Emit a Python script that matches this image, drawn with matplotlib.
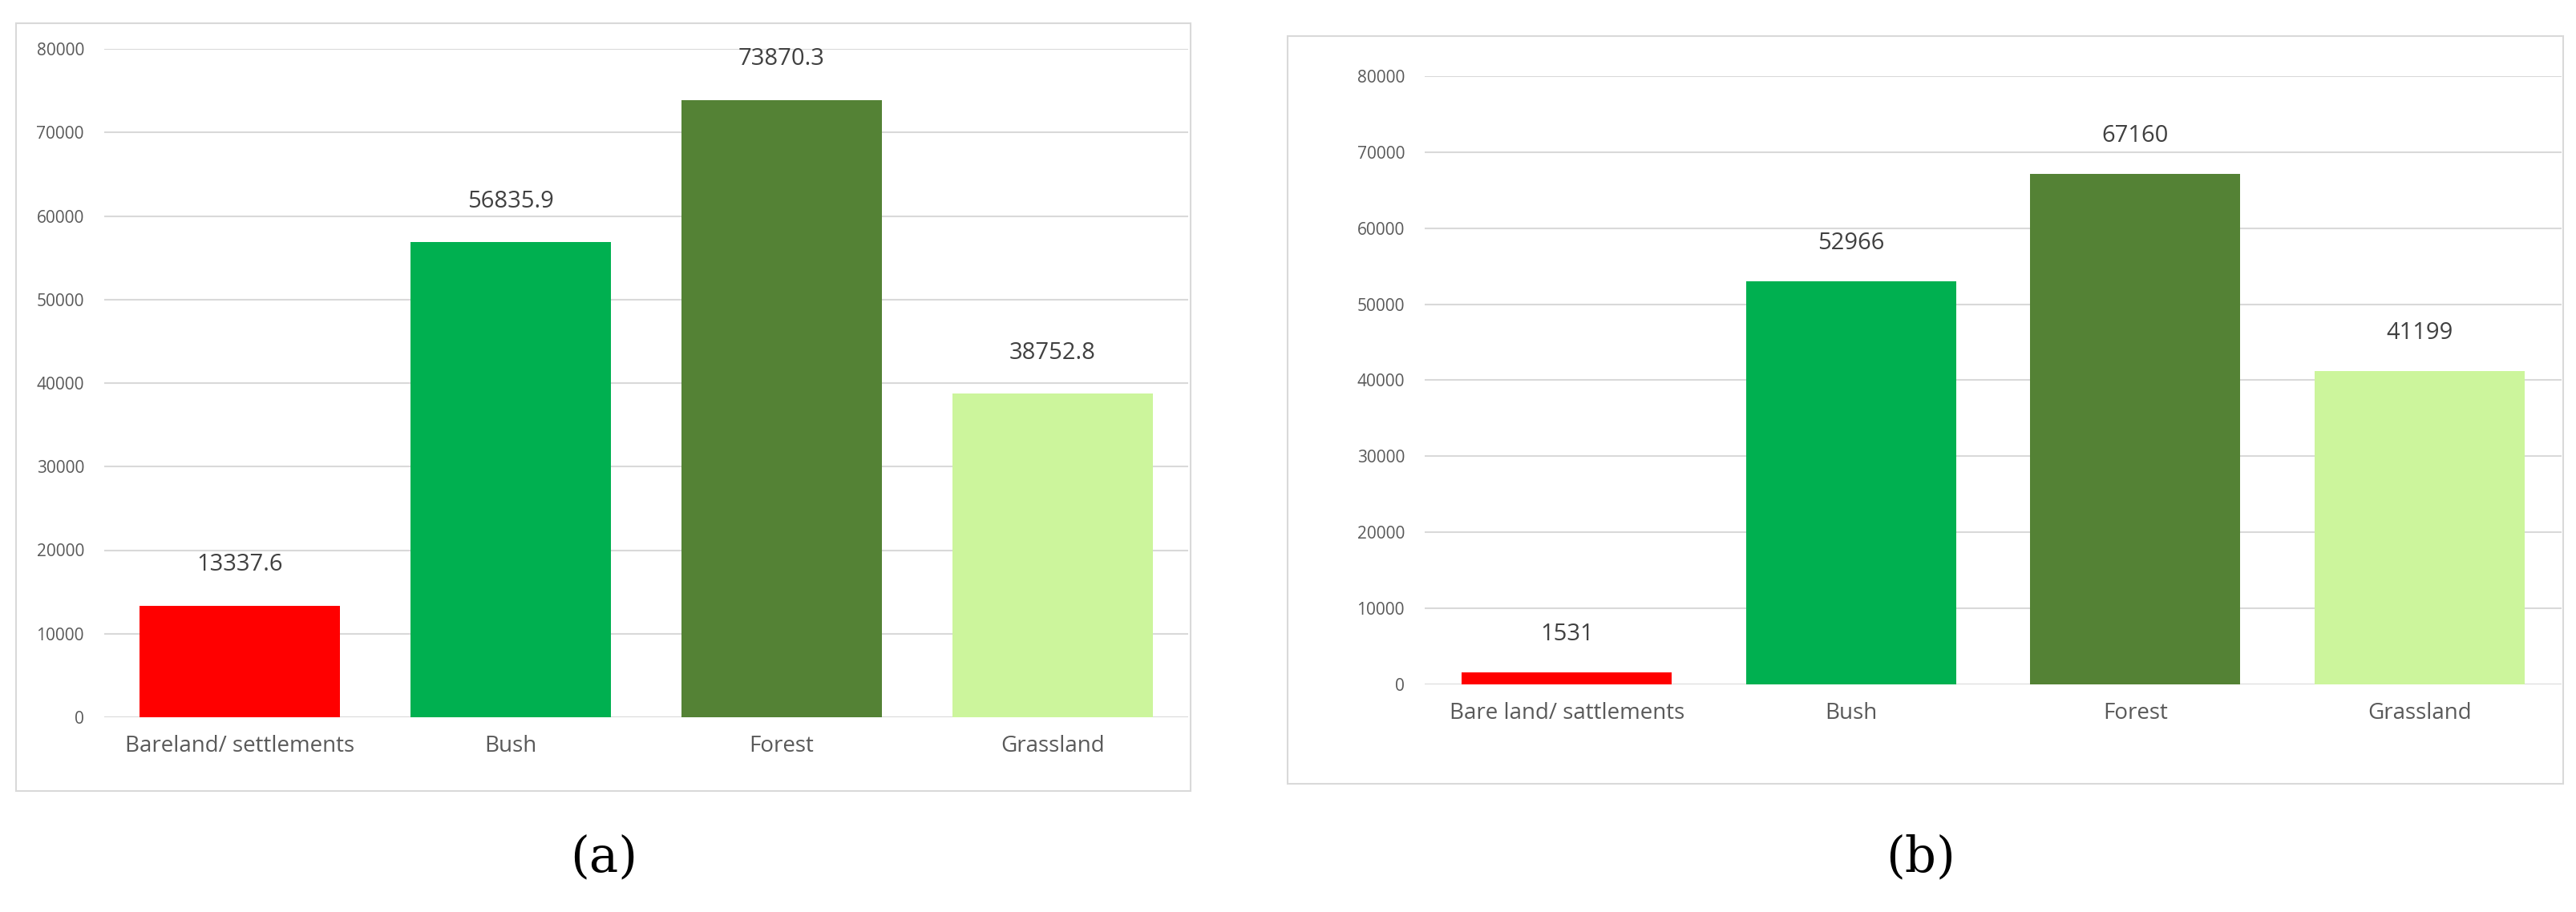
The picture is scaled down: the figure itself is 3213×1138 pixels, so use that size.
import matplotlib.pyplot as plt
from matplotlib.patches import Rectangle

cats_a = ['Bareland/ settlements', 'Bush', 'Forest', 'Grassland']
vals_a = [13337.6, 56835.9, 73870.3, 38752.8]
cats_b = ['Bare land/ sattlements', 'Bush', 'Forest', 'Grassland']
vals_b = [1531, 52966, 67160, 41199]
colors = ['#FF0000', '#00B050', '#548235', '#CCF59C']

W, H = 3213, 1138
fig = plt.figure(figsize=(W / 100, H / 100), dpi=100)
plt.rcParams['font.family'] = ['Open Sans', 'DejaVu Sans']

def box(x0, y0, x1, y1):
    # rectangle in pixel coords (top-left origin)
    return [x0 / W, 1 - y1 / H, (x1 - x0) / W, (y1 - y0) / H]

def panel(rect, frame, cats, vals, fmt):
    fig.patches.append(Rectangle((frame[0], frame[1]), frame[2], frame[3],
                                 transform=fig.transFigure, fill=False,
                                 edgecolor='#D9D9D9', lw=1.5))
    ax = fig.add_axes(rect)
    x = range(len(cats))
    ax.bar(x, vals, width=0.74, color=colors, zorder=3)
    ax.set_xlim(-0.5, 3.5)
    ax.set_ylim(0, 80000)
    ax.set_yticks(range(0, 80001, 10000))
    ax.grid(axis='y', color='#D9D9D9', lw=1.5, zorder=0)
    for s in ax.spines.values():
        s.set_visible(False)
    ax.tick_params(length=0, colors='#595959')
    ax.tick_params(axis='y', labelsize=15, pad=18)
    ax.set_xticks(list(x))
    ax.set_xticklabels(cats, fontsize=20)
    ax.tick_params(axis='x', pad=16)
    for xi, v in zip(x, vals):
        ax.text(xi, v + 3500, fmt(v), ha='center', va='bottom',
                fontsize=21, color='#404040')
    return ax

panel(box(130, 61, 1482, 895), box(20, 29, 1485, 987), cats_a, vals_a,
      lambda v: f'{v:.1f}')
panel(box(1777, 95, 3195, 854), box(1606, 45, 3197, 978), cats_b, vals_b,
      lambda v: f'{v:d}')

fig.text(753 / W, 1 - 1070 / H, '(a)', ha='center', va='center', fontsize=44,
         family=['DejaVu Serif'])
fig.text(2396 / W, 1 - 1070 / H, '(b)', ha='center', va='center', fontsize=44,
         family=['DejaVu Serif'])
for t in fig.texts:
    pass

fig.savefig('out.png', dpi=100, facecolor='white')
